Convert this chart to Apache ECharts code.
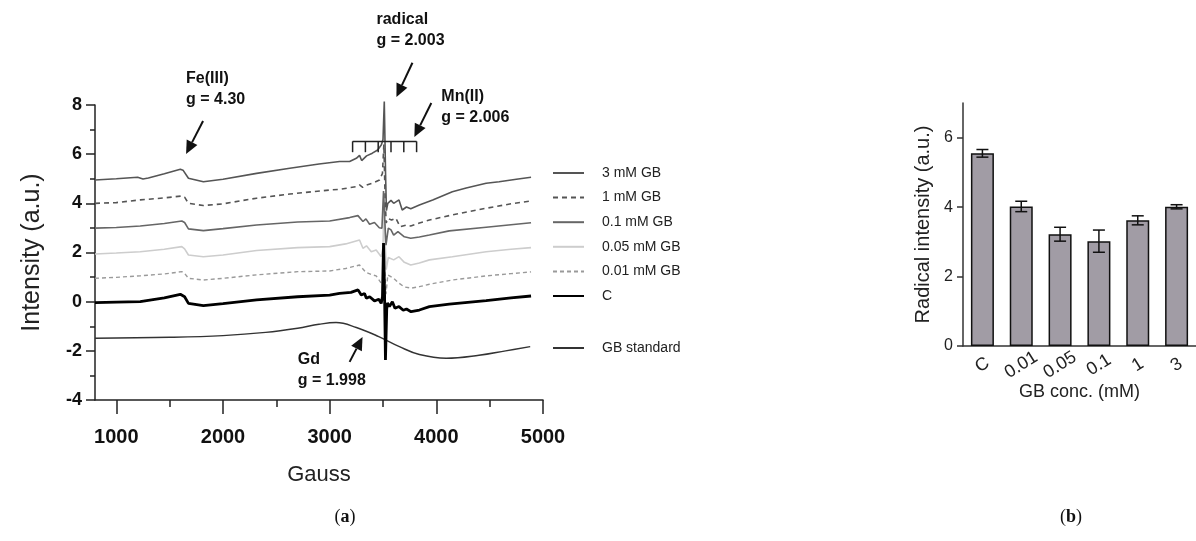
<!DOCTYPE html>
<html>
<head>
<meta charset="utf-8">
<script src="https://cdn.jsdelivr.net/npm/echarts@6/dist/echarts.min.js"></script>
<style>
  html, body { margin: 0; padding: 0; background: #fff; }
  #main { width: 1196px; height: 541px; }
</style>
</head>
<body>
<div id="main"></div>
<script>
// ---- (a) EPR spectra, [Gauss, intensity] ----
const mM3 = [[800,4.95],[1000,5.0],[1200,5.06],[1250,4.99],[1300,5.03],[1450,5.2],[1600,5.39],[1625,5.35],[1676,5.02],[1816,4.88],[2000,4.98],[2315,5.22],[2626,5.43],[2900,5.6],[3093,5.7],[3187,5.7],[3250,5.83],[3280,5.95],[3300,5.74],[3346,5.93],[3400,6.04],[3450,6.17],[3485,6.38],[3500,6.6],[3512,8.14],[3524,5.2],[3532,3.7],[3545,4.0],[3575,4.12],[3600,4.0],[3650,4.14],[3680,3.73],[3720,3.85],[3760,3.78],[3841,3.93],[3966,4.14],[4150,4.47],[4280,4.62],[4467,4.82],[4589,4.88],[4750,4.98],[4888,5.06]];
const mM1 = [[800,4.0],[1000,4.03],[1224,4.14],[1450,4.22],[1614,4.3],[1640,4.25],[1676,4.0],[1816,3.91],[2000,3.98],[2315,4.21],[2626,4.38],[3000,4.54],[3093,4.57],[3250,4.68],[3280,4.75],[3310,4.65],[3346,4.74],[3400,4.82],[3467,4.95],[3495,5.22],[3508,6.4],[3520,4.2],[3530,3.2],[3545,3.39],[3580,3.32],[3620,3.4],[3660,3.05],[3720,3.12],[3760,3.08],[3841,3.2],[3935,3.32],[4150,3.53],[4467,3.8],[4700,3.98],[4888,4.1]];
const mM01 = [[800,2.99],[1000,3.02],[1224,3.08],[1450,3.18],[1614,3.28],[1640,3.22],[1676,2.96],[1816,2.89],[2000,2.97],[2315,3.12],[2700,3.24],[3000,3.28],[3187,3.42],[3265,3.5],[3280,3.56],[3312,3.26],[3340,3.37],[3374,3.15],[3420,3.22],[3465,3.01],[3490,2.99],[3505,4.5],[3518,3.2],[3528,2.3],[3550,2.99],[3575,2.92],[3600,2.71],[3640,2.85],[3700,2.64],[3760,2.58],[3841,2.63],[3935,2.71],[4121,2.88],[4467,3.03],[4700,3.13],[4888,3.21]];
const mM005 = [[800,1.94],[1000,1.98],[1224,2.03],[1450,2.13],[1614,2.24],[1640,2.15],[1676,1.9],[1816,1.83],[2000,1.9],[2315,2.08],[2700,2.2],[3000,2.24],[3150,2.35],[3280,2.51],[3312,2.17],[3345,2.27],[3390,2.03],[3436,2.1],[3483,1.83],[3500,2.2],[3508,4.0],[3520,2.5],[3530,1.3],[3550,1.8],[3600,1.7],[3650,1.83],[3700,1.6],[3760,1.49],[3841,1.57],[3935,1.7],[4150,1.83],[4467,2.03],[4700,2.13],[4888,2.2]];
const mM001 = [[800,0.95],[1000,0.99],[1224,1.05],[1450,1.13],[1614,1.22],[1640,1.15],[1676,0.95],[1816,0.88],[2000,0.95],[2315,1.09],[2700,1.22],[3000,1.25],[3150,1.35],[3280,1.49],[3340,1.19],[3400,1.09],[3436,1.05],[3483,0.75],[3500,0.9],[3508,2.3],[3518,1.2],[3528,0.3],[3545,1.09],[3600,0.95],[3650,0.75],[3700,0.6],[3766,0.55],[3841,0.61],[3935,0.71],[4150,0.88],[4467,1.05],[4700,1.14],[4888,1.21]];
const ctrl = [[800,-0.04],[1000,-0.02],[1224,0.0],[1450,0.15],[1600,0.3],[1614,0.32],[1640,0.2],[1676,-0.07],[1816,-0.16],[2000,-0.08],[2315,0.07],[2700,0.2],[3000,0.27],[3093,0.34],[3200,0.38],[3266,0.48],[3296,0.27],[3327,0.33],[3344,0.14],[3375,0.2],[3420,0.03],[3460,0.1],[3483,-0.07],[3495,0.2],[3505,2.39],[3514,0.5],[3523,-2.37],[3535,-0.3],[3542,-0.05],[3560,-0.2],[3588,0.0],[3612,-0.27],[3650,-0.2],[3690,-0.35],[3720,-0.3],[3763,-0.41],[3841,-0.34],[3935,-0.2],[4121,-0.1],[4467,0.04],[4700,0.15],[4888,0.23]];
const gbStd = [[800,-1.49],[1500,-1.45],[2000,-1.38],[2400,-1.25],[2700,-1.08],[2900,-0.92],[3060,-0.85],[3250,-1.05],[3460,-1.42],[3654,-1.83],[3841,-2.15],[4093,-2.3],[4400,-2.18],[4650,-2.0],[4880,-1.83]];

const xLabels = [1000, 2000, 3000, 4000, 5000];
const xMinor = [1500, 2500, 3500, 4500];
const mnLines = [3215, 3335, 3455, 3575, 3695, 3815];

// ---- (b) radical intensity ----
const concs = ['C', '0.01', '0.05', '0.1', '1', '3'];
const radical = [5.55, 4.02, 3.22, 3.02, 3.62, 4.01];
const radicalErr = [0.11, 0.15, 0.2, 0.32, 0.13, 0.06];
const barTicks = [0, 2, 4, 6];

const FONT = "'Liberation Sans', Arial, Helvetica, sans-serif";
const chart = echarts.init(document.getElementById('main'));

function spectrum(name, data, color, width, type) {
  return {
    name: name, type: 'line', data: data, xAxisIndex: 0, yAxisIndex: 0,
    symbol: 'none', smooth: false, clip: false,
    lineStyle: { color: color, width: width, type: type || 'solid' },
    itemStyle: { color: color }
  };
}

const gb = spectrum('GB standard', gbStd, '#333', 1.4);
gb.smooth = 0.4;

const legendBase = {
  orient: 'vertical', left: 552, padding: 0,
  itemWidth: 31, itemHeight: 14, itemGap: 10.6,
  itemStyle: { opacity: 0 },
  textStyle: { fontSize: 14, color: '#222', fontFamily: FONT, padding: [0, 0, 0, 13] }
};

chart.setOption({
  backgroundColor: '#fff',
  animation: false,
  textStyle: { fontFamily: FONT },
  legend: [
    Object.assign({}, legendBase, { top: 166, data: ['3 mM GB', '1 mM GB', '0.1 mM GB', '0.05 mM GB', '0.01 mM GB', 'C'] }),
    Object.assign({}, legendBase, { top: 341, data: ['GB standard'] })
  ],
  grid: [
    { left: 95, right: 653, top: 105, bottom: 141 },
    { left: 963, right: -11, top: 103, bottom: 195 }
  ],
  xAxis: [{
    gridIndex: 0, type: 'value', min: 800, max: 5000,
    name: 'Gauss', nameLocation: 'middle', nameGap: 64, nameMoveOverlap: false,
    nameTextStyle: { fontSize: 22, color: '#222' },
    axisLine: { onZero: false, lineStyle: { color: '#222', width: 1.5 } },
    axisTick: { length: 14, customValues: xLabels, lineStyle: { color: '#222', width: 1.5 } },
    axisLabel: { customValues: xLabels, formatter: v => String(v), fontSize: 20, fontWeight: 'bold', color: '#111', margin: 27 },
    splitLine: { show: false }
  }, {
    gridIndex: 0, type: 'value', min: 800, max: 5000, position: 'bottom',
    axisLine: { show: false, onZero: false },
    axisTick: { length: 7, customValues: xMinor, lineStyle: { color: '#222', width: 1.5 } },
    axisLabel: { show: false },
    splitLine: { show: false }
  }, {
    gridIndex: 1, type: 'category', data: concs,
    name: 'GB conc. (mM)', nameLocation: 'middle', nameGap: 37, nameMoveOverlap: false,
    nameTextStyle: { fontSize: 18, color: '#222' },
    axisLine: { onZero: false, lineStyle: { color: '#333', width: 1.5 } },
    axisTick: { show: false },
    axisLabel: { interval: 0, rotate: 32, fontSize: 18, color: '#222', align: 'center', verticalAlign: 'middle', margin: 19 }
  }],
  yAxis: [{
    gridIndex: 0, type: 'value', min: -4, max: 8, interval: 2,
    name: 'Intensity (a.u.)', nameLocation: 'middle', nameGap: 50,
    nameTextStyle: { fontSize: 25, color: '#222' },
    axisLine: { show: true, onZero: false, lineStyle: { color: '#222', width: 1.5 } },
    axisTick: { show: true, length: 9, lineStyle: { color: '#222', width: 1.5 } },
    minorTick: { show: true, splitNumber: 2, length: 5, lineStyle: { color: '#222', width: 1.5 } },
    axisLabel: { fontSize: 18, fontWeight: 'bold', color: '#111', margin: 13 },
    splitLine: { show: false }
  }, {
    gridIndex: 1, type: 'value', min: 0, max: 7,
    name: 'Radical intensity (a.u.)', nameLocation: 'middle', nameGap: 30,
    nameTextStyle: { fontSize: 20, color: '#222' },
    axisLine: { show: true, onZero: false, lineStyle: { color: '#333', width: 1.5 } },
    axisTick: { show: true, length: 6, customValues: barTicks, lineStyle: { color: '#333', width: 1.5 } },
    axisLabel: { customValues: barTicks, fontSize: 16, color: '#222', margin: 10 },
    splitLine: { show: false }
  }],
  series: [
    gb,
    spectrum('0.01 mM GB', mM001, '#9a9a9a', 1.4, [4, 3]),
    spectrum('0.05 mM GB', mM005, '#cdcdcd', 1.6),
    spectrum('0.1 mM GB', mM01, '#666', 1.6),
    spectrum('1 mM GB', mM1, '#555', 1.6, [5, 4]),
    spectrum('3 mM GB', mM3, '#555', 1.6),
    spectrum('C', ctrl, '#000', 2.8),
    {
      type: 'bar', xAxisIndex: 2, yAxisIndex: 1, data: radical, barWidth: 23,
      itemStyle: { color: '#a19ca5', borderColor: '#111', borderWidth: 1.5 }
    },
    {
      type: 'custom', xAxisIndex: 2, yAxisIndex: 1, z: 5,
      data: radical.map((v, i) => [i, v - radicalErr[i], v + radicalErr[i]]),
      renderItem: function (params, api) {
        const lo = api.coord([api.value(0), api.value(1)]);
        const hi = api.coord([api.value(0), api.value(2)]);
        const st = { stroke: '#111', lineWidth: 1.5 };
        return {
          type: 'group', children: [
            { type: 'line', shape: { x1: lo[0], y1: lo[1], x2: hi[0], y2: hi[1] }, style: st },
            { type: 'line', shape: { x1: hi[0] - 6, y1: hi[1], x2: hi[0] + 6, y2: hi[1] }, style: st },
            { type: 'line', shape: { x1: lo[0] - 6, y1: lo[1], x2: lo[0] + 6, y2: lo[1] }, style: st }
          ]
        };
      }
    }
  ]
});

// annotations in data coordinates of panel (a)
const notes = [
  { text: 'Fe(III)\ng = 4.30', at: [1654, 9.06] },
  { text: 'radical\ng = 2.003', at: [3439, 11.46] },
  { text: 'Mn(II)\ng = 2.006', at: [4047, 8.33] },
  { text: 'Gd\ng = 1.998', at: [2701, -2.37] }
];
const arrows = [
  [[1813, 7.35], [1654, 6.01]],
  [[3776, 9.72], [3626, 8.33]],
  [[3953, 8.08], [3794, 6.7]],
  [[3187, -2.45], [3308, -1.44]]
];
const bracketTop = 6.52, bracketFoot = 6.08;

function px(p) { return chart.convertToPixel({ gridIndex: 0 }, p); }

const gfx = [];
notes.forEach(n => {
  const p = px(n.at);
  gfx.push({
    type: 'text', x: p[0], y: p[1] - 10.5, z: 10,
    style: { text: n.text, fontFamily: FONT, fontSize: 16, fontWeight: 'bold', fill: '#111', lineHeight: 21, verticalAlign: 'top' }
  });
});
arrows.forEach(a => {
  const t = px(a[0]), h = px(a[1]);
  const dx = h[0] - t[0], dy = h[1] - t[1], L = Math.hypot(dx, dy);
  const ux = dx / L, uy = dy / L, hl = 13, hw = 6;
  const bx = h[0] - ux * hl, by = h[1] - uy * hl;
  gfx.push({ type: 'line', z: 10, shape: { x1: t[0], y1: t[1], x2: bx, y2: by }, style: { stroke: '#111', lineWidth: 2 } });
  gfx.push({
    type: 'polygon', z: 10,
    shape: { points: [[h[0], h[1]], [bx - uy * hw, by + ux * hw], [bx + uy * hw, by - ux * hw]] },
    style: { fill: '#111' }
  });
});
const b0 = px([mnLines[0], bracketTop]), b1 = px([mnLines[mnLines.length - 1], bracketTop]);
gfx.push({ type: 'line', z: 10, shape: { x1: b0[0], y1: b0[1], x2: b1[0], y2: b1[1] }, style: { stroke: '#222', lineWidth: 1.5 } });
mnLines.forEach(g => {
  const a = px([g, bracketTop]), b = px([g, bracketFoot]);
  gfx.push({ type: 'line', z: 10, shape: { x1: a[0], y1: a[1], x2: b[0], y2: b[1] }, style: { stroke: '#222', lineWidth: 1.5 } });
});
['a', 'b'].forEach((k, i) => {
  gfx.push({
    type: 'text', x: i === 0 ? 345 : 1071, y: 517, z: 10,
    style: {
      text: '({b|' + k + '})', align: 'center', verticalAlign: 'middle',
      fontFamily: "'Liberation Serif', 'DejaVu Serif', serif", fontSize: 18, fill: '#111',
      rich: { b: { fontWeight: 'bold', fontFamily: "'Liberation Serif', 'DejaVu Serif', serif", fontSize: 18, fill: '#111' } }
    }
  });
});
chart.setOption({ graphic: gfx });
</script>
</body>
</html>
